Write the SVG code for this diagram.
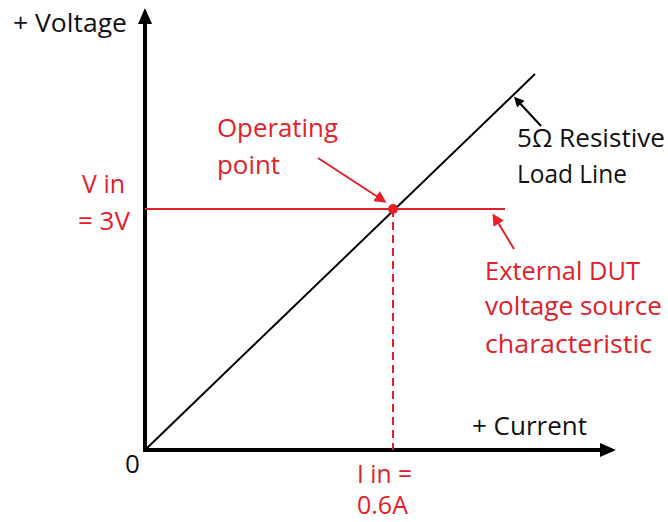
<svg xmlns="http://www.w3.org/2000/svg" width="668" height="522" viewBox="0 0 668 522">
<defs>
<marker id="ab" markerWidth="10" markerHeight="10" refX="7" refY="5" orient="auto" markerUnits="userSpaceOnUse"><path d="M0,0 L10,5 L0,10 z" fill="#000"/></marker>
<marker id="abig" markerWidth="16" markerHeight="14" refX="12" refY="7" orient="auto" markerUnits="userSpaceOnUse"><path d="M0,0 L16,7 L0,14 z" fill="#000"/></marker>
<marker id="ar" markerWidth="12" markerHeight="12" refX="9" refY="6" orient="auto" markerUnits="userSpaceOnUse"><path d="M0,0 L12,6 L0,12 z" fill="#e3202a"/></marker>
</defs>
<style>
text{font-family:"Open Sans","Liberation Sans",sans-serif;font-size:25px}
.k{fill:#111}
.r{fill:#e3202a}
</style>
<rect width="668" height="522" fill="#fff"/>
<g id="connectors">
<line x1="145" y1="452" x2="145" y2="12" stroke="#000" stroke-width="4" marker-end="url(#abig)"/>
<line x1="143" y1="450" x2="612" y2="450" stroke="#000" stroke-width="4" marker-end="url(#abig)"/>
<line x1="145" y1="450" x2="535" y2="74" stroke="#000" stroke-width="2"/>
<line x1="145" y1="209" x2="505" y2="209" stroke="#e3202a" stroke-width="2"/>
<line x1="393" y1="209" x2="393" y2="450" stroke="#e3202a" stroke-width="2" stroke-dasharray="8,5"/>
<line x1="318" y1="158" x2="384" y2="201" stroke="#e3202a" stroke-width="2" marker-end="url(#ar)"/>
<line x1="541" y1="126" x2="516" y2="99" stroke="#000" stroke-width="2" marker-end="url(#ab)"/>
<line x1="514" y1="249" x2="494" y2="216" stroke="#e3202a" stroke-width="2" marker-end="url(#ar)"/>
</g>
<g id="op"><circle cx="393" cy="209" r="5" fill="#e3202a"/></g>
<g id="ylabel"><text class="k" x="13" y="32" textLength="114" lengthAdjust="spacingAndGlyphs">+ Voltage</text></g>
<g id="xlabel"><text class="k" x="472" y="435" textLength="115" lengthAdjust="spacingAndGlyphs">+ Current</text></g>
<g id="origin"><text class="k" x="125" y="473" style="font-size:26px">0</text></g>
<g id="oplabel"><text class="r" x="217" y="137" textLength="121" lengthAdjust="spacingAndGlyphs">Operating</text><text class="r" x="217" y="174" textLength="63" lengthAdjust="spacingAndGlyphs">point</text></g>
<g id="vin"><text class="r" x="82" y="193" textLength="43" lengthAdjust="spacingAndGlyphs">V in</text><text class="r" x="78" y="230" textLength="52" lengthAdjust="spacingAndGlyphs">= 3V</text></g>
<g id="load"><text class="k" x="517" y="147" textLength="148" lengthAdjust="spacingAndGlyphs">5Ω Resistive</text><text class="k" x="517" y="183" textLength="110" lengthAdjust="spacingAndGlyphs">Load Line</text></g>
<g id="ext"><text class="r" x="485" y="280" textLength="155" lengthAdjust="spacingAndGlyphs">External DUT</text><text class="r" x="485" y="315" textLength="177" lengthAdjust="spacingAndGlyphs">voltage source</text><text class="r" x="485" y="353" textLength="167" lengthAdjust="spacingAndGlyphs">characteristic</text></g>
<g id="iin"><text class="r" x="357" y="483" textLength="55" lengthAdjust="spacingAndGlyphs">I in =</text><text class="r" x="357" y="514">0.6A</text></g>
</svg>
